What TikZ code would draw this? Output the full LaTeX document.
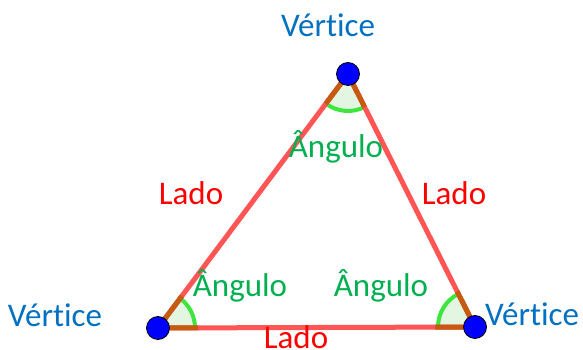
\documentclass[tikz,border=0pt]{standalone}
\usepackage{fontspec}
\setmainfont[Ligatures=NoCommon]{Carlito}
\usetikzlibrary{calc,angles}
\definecolor{sidered}{RGB}{255,85,85}
\definecolor{segbrown}{RGB}{197,90,17}
\definecolor{arcgreen}{RGB}{60,230,60}
\definecolor{sectfill}{RGB}{226,246,226}
\definecolor{txtblue}{RGB}{0,112,192}
\definecolor{txtred}{RGB}{255,0,0}
\definecolor{txtgreen}{RGB}{0,176,80}
\begin{document}
\begin{tikzpicture}[x=1pt,y=1pt,
  side/.style={draw=sidered,line width=5pt,line cap=round},
  segb/.style={draw=segbrown,line width=5pt},
  ang/.style={draw=arcgreen,fill=sectfill,line width=4pt,angle radius=37pt},
  vert/.style={circle,draw=black,line width=0.8pt,fill=blue,minimum size=23pt,inner sep=0pt},
  lbl/.style={font=\fontsize{33}{33}\selectfont,anchor=base,inner sep=0pt}]
\useasboundingbox (0,0) rectangle (583,350);
\coordinate (A) at (348,276);
\coordinate (B) at (158,22);
\coordinate (C) at (475,23);
% sectors
\pic[ang] {angle = B--A--C};
\pic[ang] {angle = C--B--A};
\pic[ang] {angle = A--C--B};
% sides
\draw[side] (A) -- (B);
\draw[side] (B) -- (C);
\draw[side] (C) -- (A);
% brown segments near vertices
\draw[segb] (A) -- ($(A)!37pt!(B)$);
\draw[segb] (A) -- ($(A)!37pt!(C)$);
\draw[segb] (B) -- ($(B)!40pt!(A)$);
\draw[segb] (B) -- ($(B)!40pt!(C)$);
\draw[segb] (C) -- ($(C)!40pt!(A)$);
\draw[segb] (C) -- ($(C)!40pt!(B)$);
% vertices
\node[vert] (vA) at (A) {};
\node[vert] (vB) at (B) {};
\node[vert] (vC) at (C) {};
% labels
\node[lbl,text=txtblue] (tA) at (328,313) {Vértice};
\node[lbl,text=txtblue] (tB) at (55,23) {Vértice};
\node[lbl,text=txtblue] (tC) at (532,24) {Vértice};
\node[lbl,text=txtred] (l1) at (191,145) {Lado};
\node[lbl,text=txtred] (l2) at (454,145) {Lado};
\node[lbl,text=txtred] (l3) at (296,1) {Lado};
\node[lbl,text=txtgreen] (g1) at (336,192) {Ângulo};
\node[lbl,text=txtgreen] (g2) at (240,53) {Ângulo};
\node[lbl,text=txtgreen] (g3) at (381,53) {Ângulo};
\end{tikzpicture}
\end{document}
